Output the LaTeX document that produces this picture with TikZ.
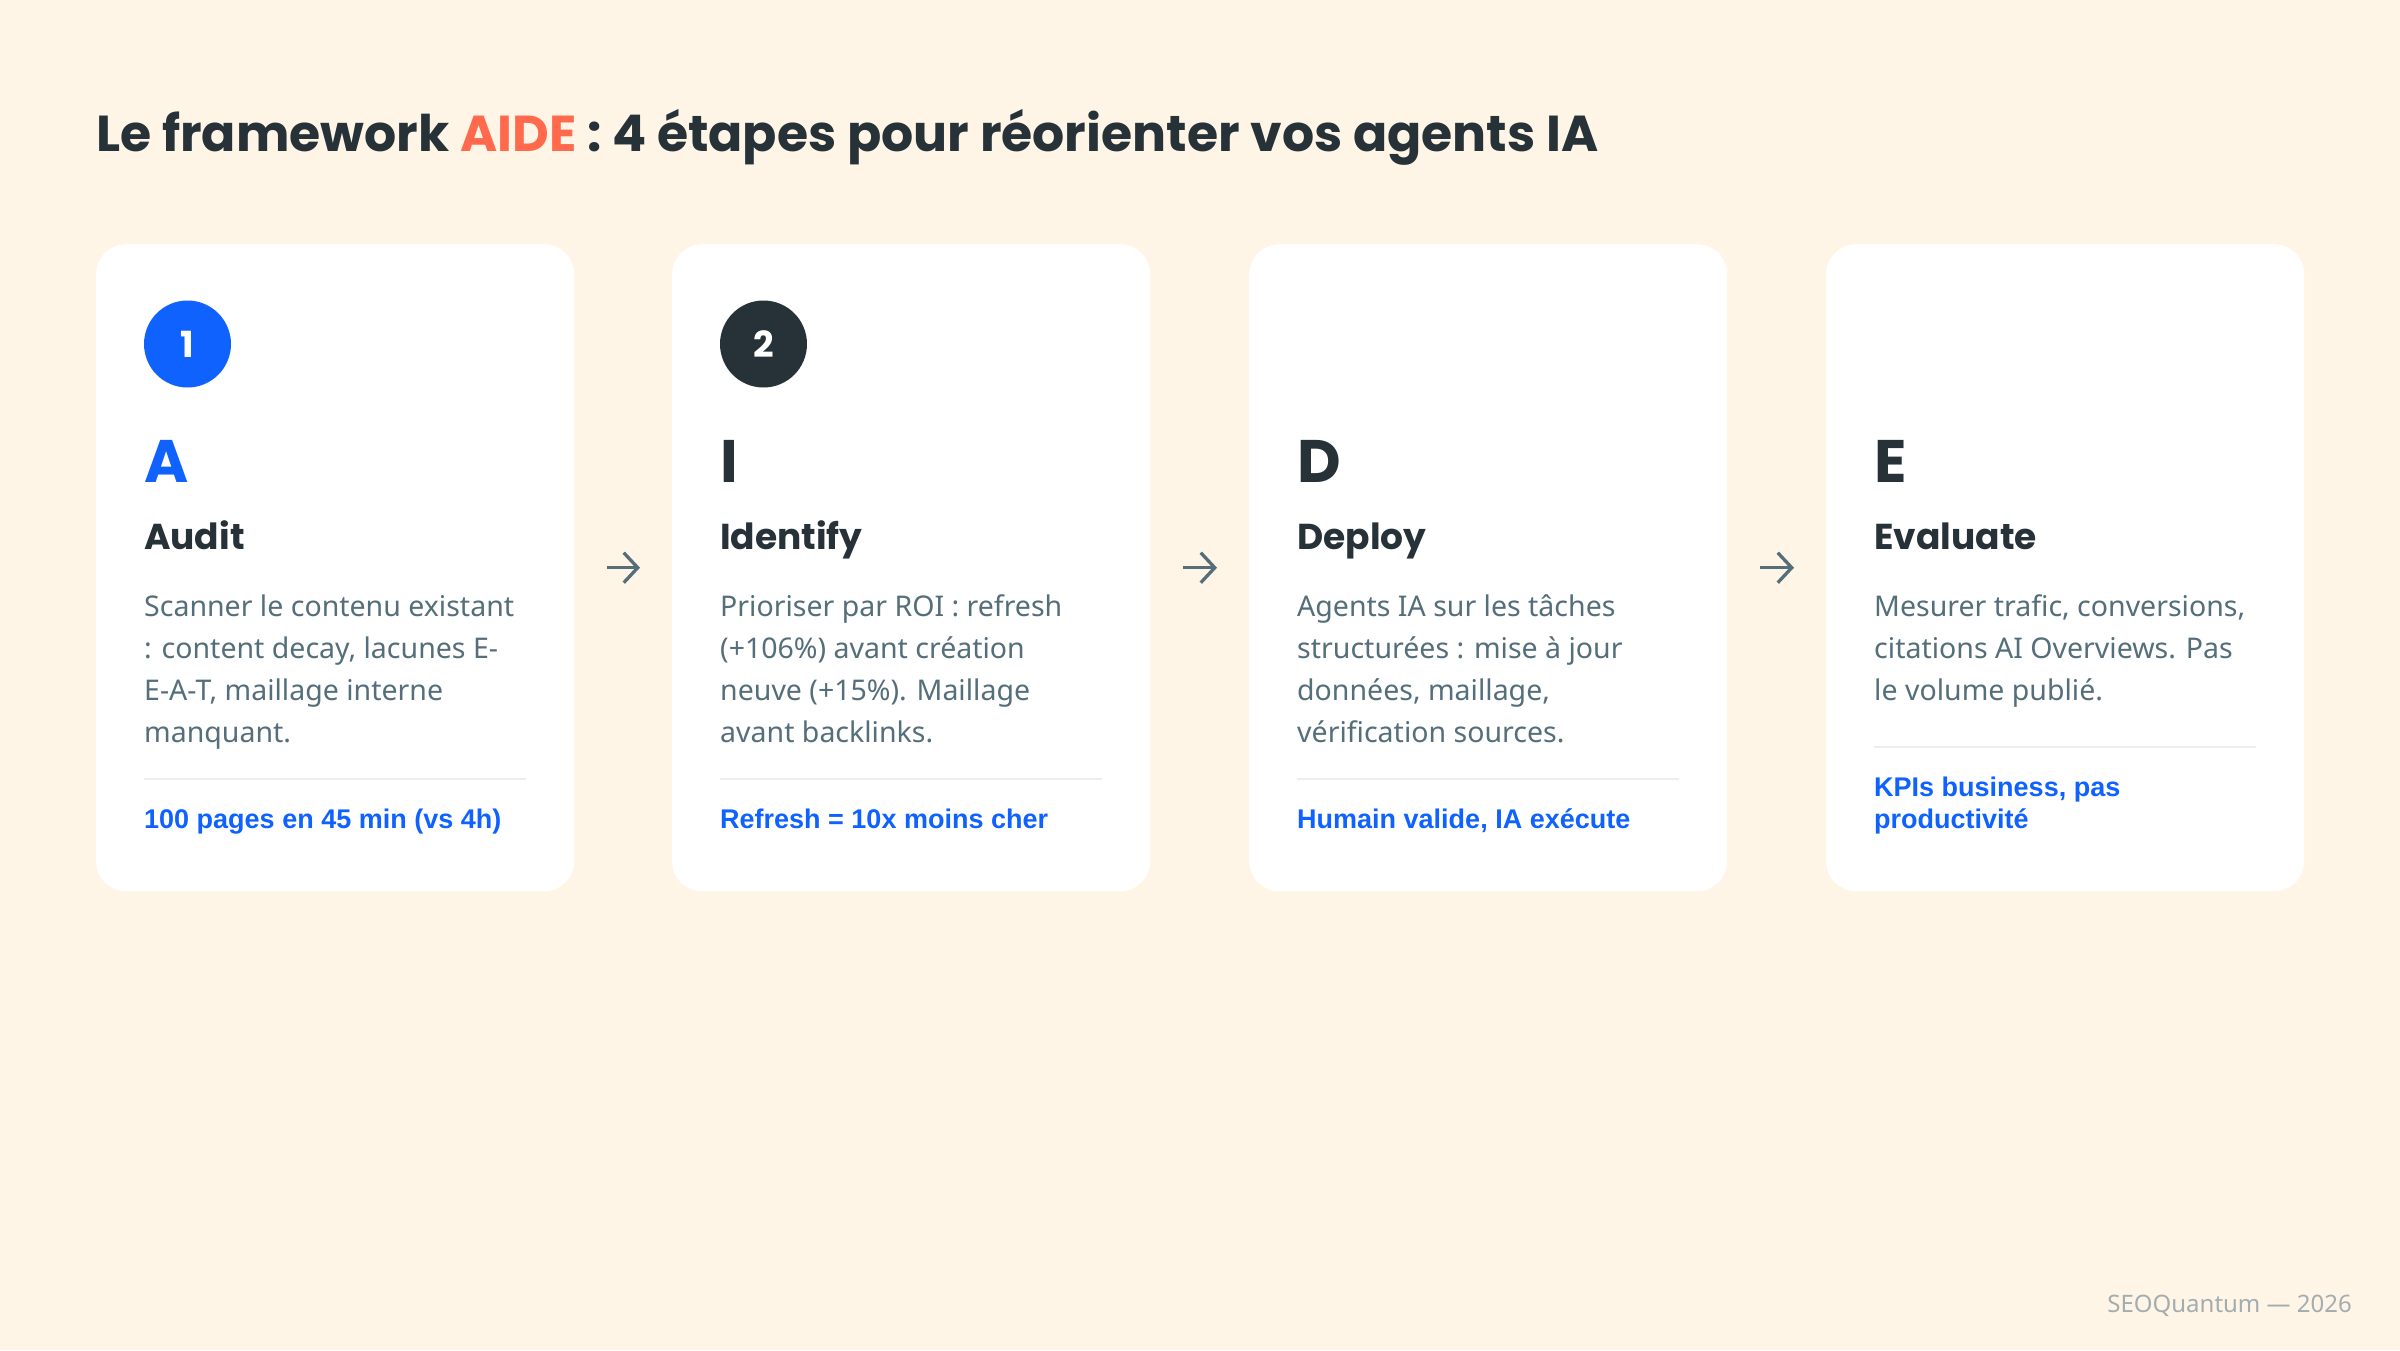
\documentclass[tikz,border=0pt]{standalone}
\usepackage{fontspec}
\setmainfont{Noto Sans}
\newfontfamily\headfont{Poppins}
\newfontfamily\notefont{Liberation Sans}
\usetikzlibrary{arrows.meta,positioning}
\definecolor{fond}{HTML}{FFF5E7}
\definecolor{bleu}{HTML}{0F62FE}
\definecolor{sombre}{HTML}{263238}
\definecolor{gris}{HTML}{546E7A}
\definecolor{corail}{HTML}{FF6A4D}
\definecolor{filetgris}{HTML}{ECEFF1}
\definecolor{piedgris}{HTML}{A3ADAF}
\tikzstyle{card}=[rounded corners=30pt,fill=white,minimum width=478pt,minimum height=647pt,inner sep=0pt]
\tikzstyle{pastille}=[circle,minimum size=87pt,inner sep=0pt,text=white,font=\headfont\bfseries\fontsize{36}{36}\selectfont]
\tikzstyle{lettre}=[inner sep=0pt,font=\headfont\bfseries\fontsize{60}{60}\selectfont]
\tikzstyle{etape}=[inner sep=0pt,text=sombre,font=\headfont\bfseries\fontsize{36}{36}\selectfont]
\tikzstyle{corps}=[inner sep=0pt,align=left,text=gris,font=\fontsize{28.5}{42}\selectfont]
\tikzstyle{note}=[inner sep=0pt,align=left,text=bleu,font=\notefont\bfseries\fontsize{27}{31.5}\selectfont]
\tikzstyle{filet}=[draw=filetgris,line width=2.5pt]
\tikzstyle{fleche}=[draw=gris,line width=3.3pt,-{Straight Barb[length=14pt,width=30pt]}]

\begin{document}
\begin{tikzpicture}[x=1pt,y=-1pt]
    \fill[fond] (0,0) rectangle (2400,1350);
    \useasboundingbox (0,0) rectangle (2400,1350);

    % Title
    \node[anchor=base west,inner sep=0pt,text=sombre,font=\headfont\bfseries\fontsize{50.5}{50.5}\selectfont] (titre) at (96,151)
        {Le framework \textcolor{corail}{AIDE} : 4 étapes pour réorienter vos agents IA};

    % The four cards
    \foreach \x/\name in {96/c1, 672/c2, 1249/c3, 1826/c4}
        \node[card, anchor=north west] (\name) at (\x,244) {};

    % Step numbers
    \node[pastille, fill=bleu] (n1) at ([xshift=91.5pt,yshift=-100pt]c1.north west) {1};
    \node[pastille, fill=sombre] (n2) at ([xshift=91.5pt,yshift=-100pt]c2.north west) {2};

    % Letter, step name, text (base = last line), rule and note of each card
    \foreach \name/\lt/\col/\step/\txt/\tb/\sep/\foot in {
        c1/A/bleu/Audit/{Scanner le contenu existant\\: content decay, lacunes E-\\E-A-T, maillage interne\\manquant.}/498/535/{100 pages en 45 min (vs 4h)},
        c2/I/sombre/Identify/{Prioriser par ROI : refresh\\(+106\%) avant création\\neuve (+15\%). Maillage\\avant backlinks.}/498/535/{Refresh = 10x moins cher},
        c3/D/sombre/Deploy/{Agents IA sur les tâches\\structurées : mise à jour\\données, maillage,\\vérification sources.}/498/535/{Humain valide, IA exécute},
        c4/E/sombre/Evaluate/{Mesurer trafic, conversions,\\citations AI Overviews. Pas\\le volume publié.}/456/503/{KPIs business, pas\\productivité}}
    {
        \node[lettre, text=\col, anchor=base west] (\name-lt) at ([xshift=48pt,yshift=-238pt]\name.north west) {\lt};
        \node[etape, anchor=base west] (\name-step) at ([xshift=48pt,yshift=-305pt]\name.north west) {\step};
        \node[corps, anchor=base west] (\name-txt) at ([xshift=48pt,yshift=-\tb pt]\name.north west) {\txt};
        \coordinate (\name-sa) at ([xshift=48pt,yshift=-\sep pt]\name.north west);
        \coordinate (\name-sb) at ([xshift=430pt,yshift=-\sep pt]\name.north west);
        \draw[filet] (\name-sa) -- (\name-sb);
        \node[note, anchor=base west] (\name-nt) at ([xshift=48pt,yshift=-584pt]\name.north west) {\foot};
    }

    % Arrows between cards
    \foreach \a/\b in {c1/c2, c2/c3, c3/c4}
        \draw[fleche, shorten <=33pt, shorten >=32pt] (\a) -- (\b);

    % Footer
    \node[anchor=base east,inner sep=0pt,text=piedgris,font=\fontsize{24}{24}\selectfont] (pied) at (2352,1312) {SEOQuantum — 2026};
\end{tikzpicture}
\end{document}
